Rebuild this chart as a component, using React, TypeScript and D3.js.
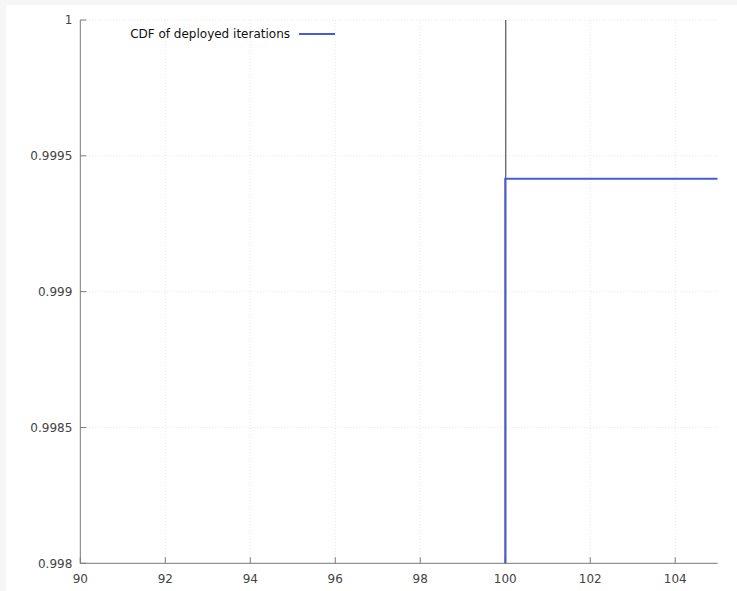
import React from "react";
import * as d3 from "d3";

const xTicks = [90, 92, 94, 96, 98, 100, 102, 104];
const yTicks = [0.998, 0.9985, 0.999, 0.9995, 1];
const yTickLabels = ["0.998", "0.9985", "0.999", "0.9995", "1"];
const cdfX = [100, 100, 105];
const cdfY = [0.99, 0.999416, 0.999416];
const markerX = [100];
const seriesName = "CDF of deployed iterations";

const W = 737;
const H = 591;
const left = 80.3;
const right = 717.7;
const top = 20;
const bottom = 563.3;

export default function App() {
  const x = d3.scaleLinear().domain([90, 105]).range([left, right]);
  const y = d3.scaleLinear().domain([0.998, 1]).range([bottom, top]);
  const pts = cdfX.map((v, i) => [v, cdfY[i]] as [number, number]);
  const line = d3
    .line<[number, number]>()
    .x((d) => x(d[0]))
    .y((d) => y(d[1]));
  const font = "DejaVu Sans, sans-serif";
  return (
    <svg
      width={W}
      height={H}
      style={{ position: "absolute", left: 0, top: 0 }}
      fontFamily={font}
    >
      <rect x={0} y={0} width={W} height={H} fill="#f6f6f6" />
      <rect x={6} y={5} width={W - 6} height={H - 5} fill="#ffffff" />
      <defs>
        <clipPath id="plot">
          <rect x={left} y={top} width={right - left} height={bottom - top} />
        </clipPath>
      </defs>
      {xTicks.slice(1).map((t) => (
        <line
          key={"gx" + t}
          x1={x(t)}
          x2={x(t)}
          y1={top}
          y2={bottom}
          stroke="#e6e6e6"
          strokeWidth={1}
          strokeDasharray="1,2"
        />
      ))}
      {yTicks.slice(1).map((t) => (
        <line
          key={"gy" + t}
          x1={left}
          x2={right}
          y1={y(t)}
          y2={y(t)}
          stroke="#e6e6e6"
          strokeWidth={1}
          strokeDasharray="1,2"
        />
      ))}
      <line x1={left} x2={left} y1={top} y2={bottom} stroke="#7a7a7a" strokeWidth={1} />
      <line x1={left} x2={right} y1={bottom} y2={bottom} stroke="#7a7a7a" strokeWidth={1} />
      {xTicks.map((t) => (
        <g key={"xt" + t}>
          <line x1={x(t)} x2={x(t)} y1={bottom} y2={bottom - 6} stroke="#7a7a7a" />
          <text
            x={x(t)}
            y={bottom + 20}
            textAnchor="middle"
            fontSize={12}
            fill="#444"
          >
            {t}
          </text>
        </g>
      ))}
      {yTicks.map((t, i) => (
        <g key={"yt" + t}>
          <line x1={left} x2={left + 6} y1={y(t)} y2={y(t)} stroke="#7a7a7a" />
          <text
            x={left - 8}
            y={y(t)}
            dy="0.35em"
            textAnchor="end"
            fontSize={12}
            fill="#444"
          >
            {yTickLabels[i]}
          </text>
        </g>
      ))}
      {markerX.map((m) => (
        <line
          key={"m" + m}
          x1={x(m) + 0.5}
          x2={x(m) + 0.5}
          y1={top}
          y2={bottom}
          stroke="#555"
          strokeWidth={1.2}
        />
      ))}
      <g clipPath="url(#plot)">
        <path d={line(pts) || ""} fill="none" stroke="#4a5bd6" strokeWidth={2} />
      </g>
      <text x={290} y={34} dy="0.35em" textAnchor="end" fontSize={12} fill="#111">
        {seriesName}
      </text>
      <line x1={299} x2={335} y1={34} y2={34} stroke="#4a5bd6" strokeWidth={2} />
    </svg>
  );
}
